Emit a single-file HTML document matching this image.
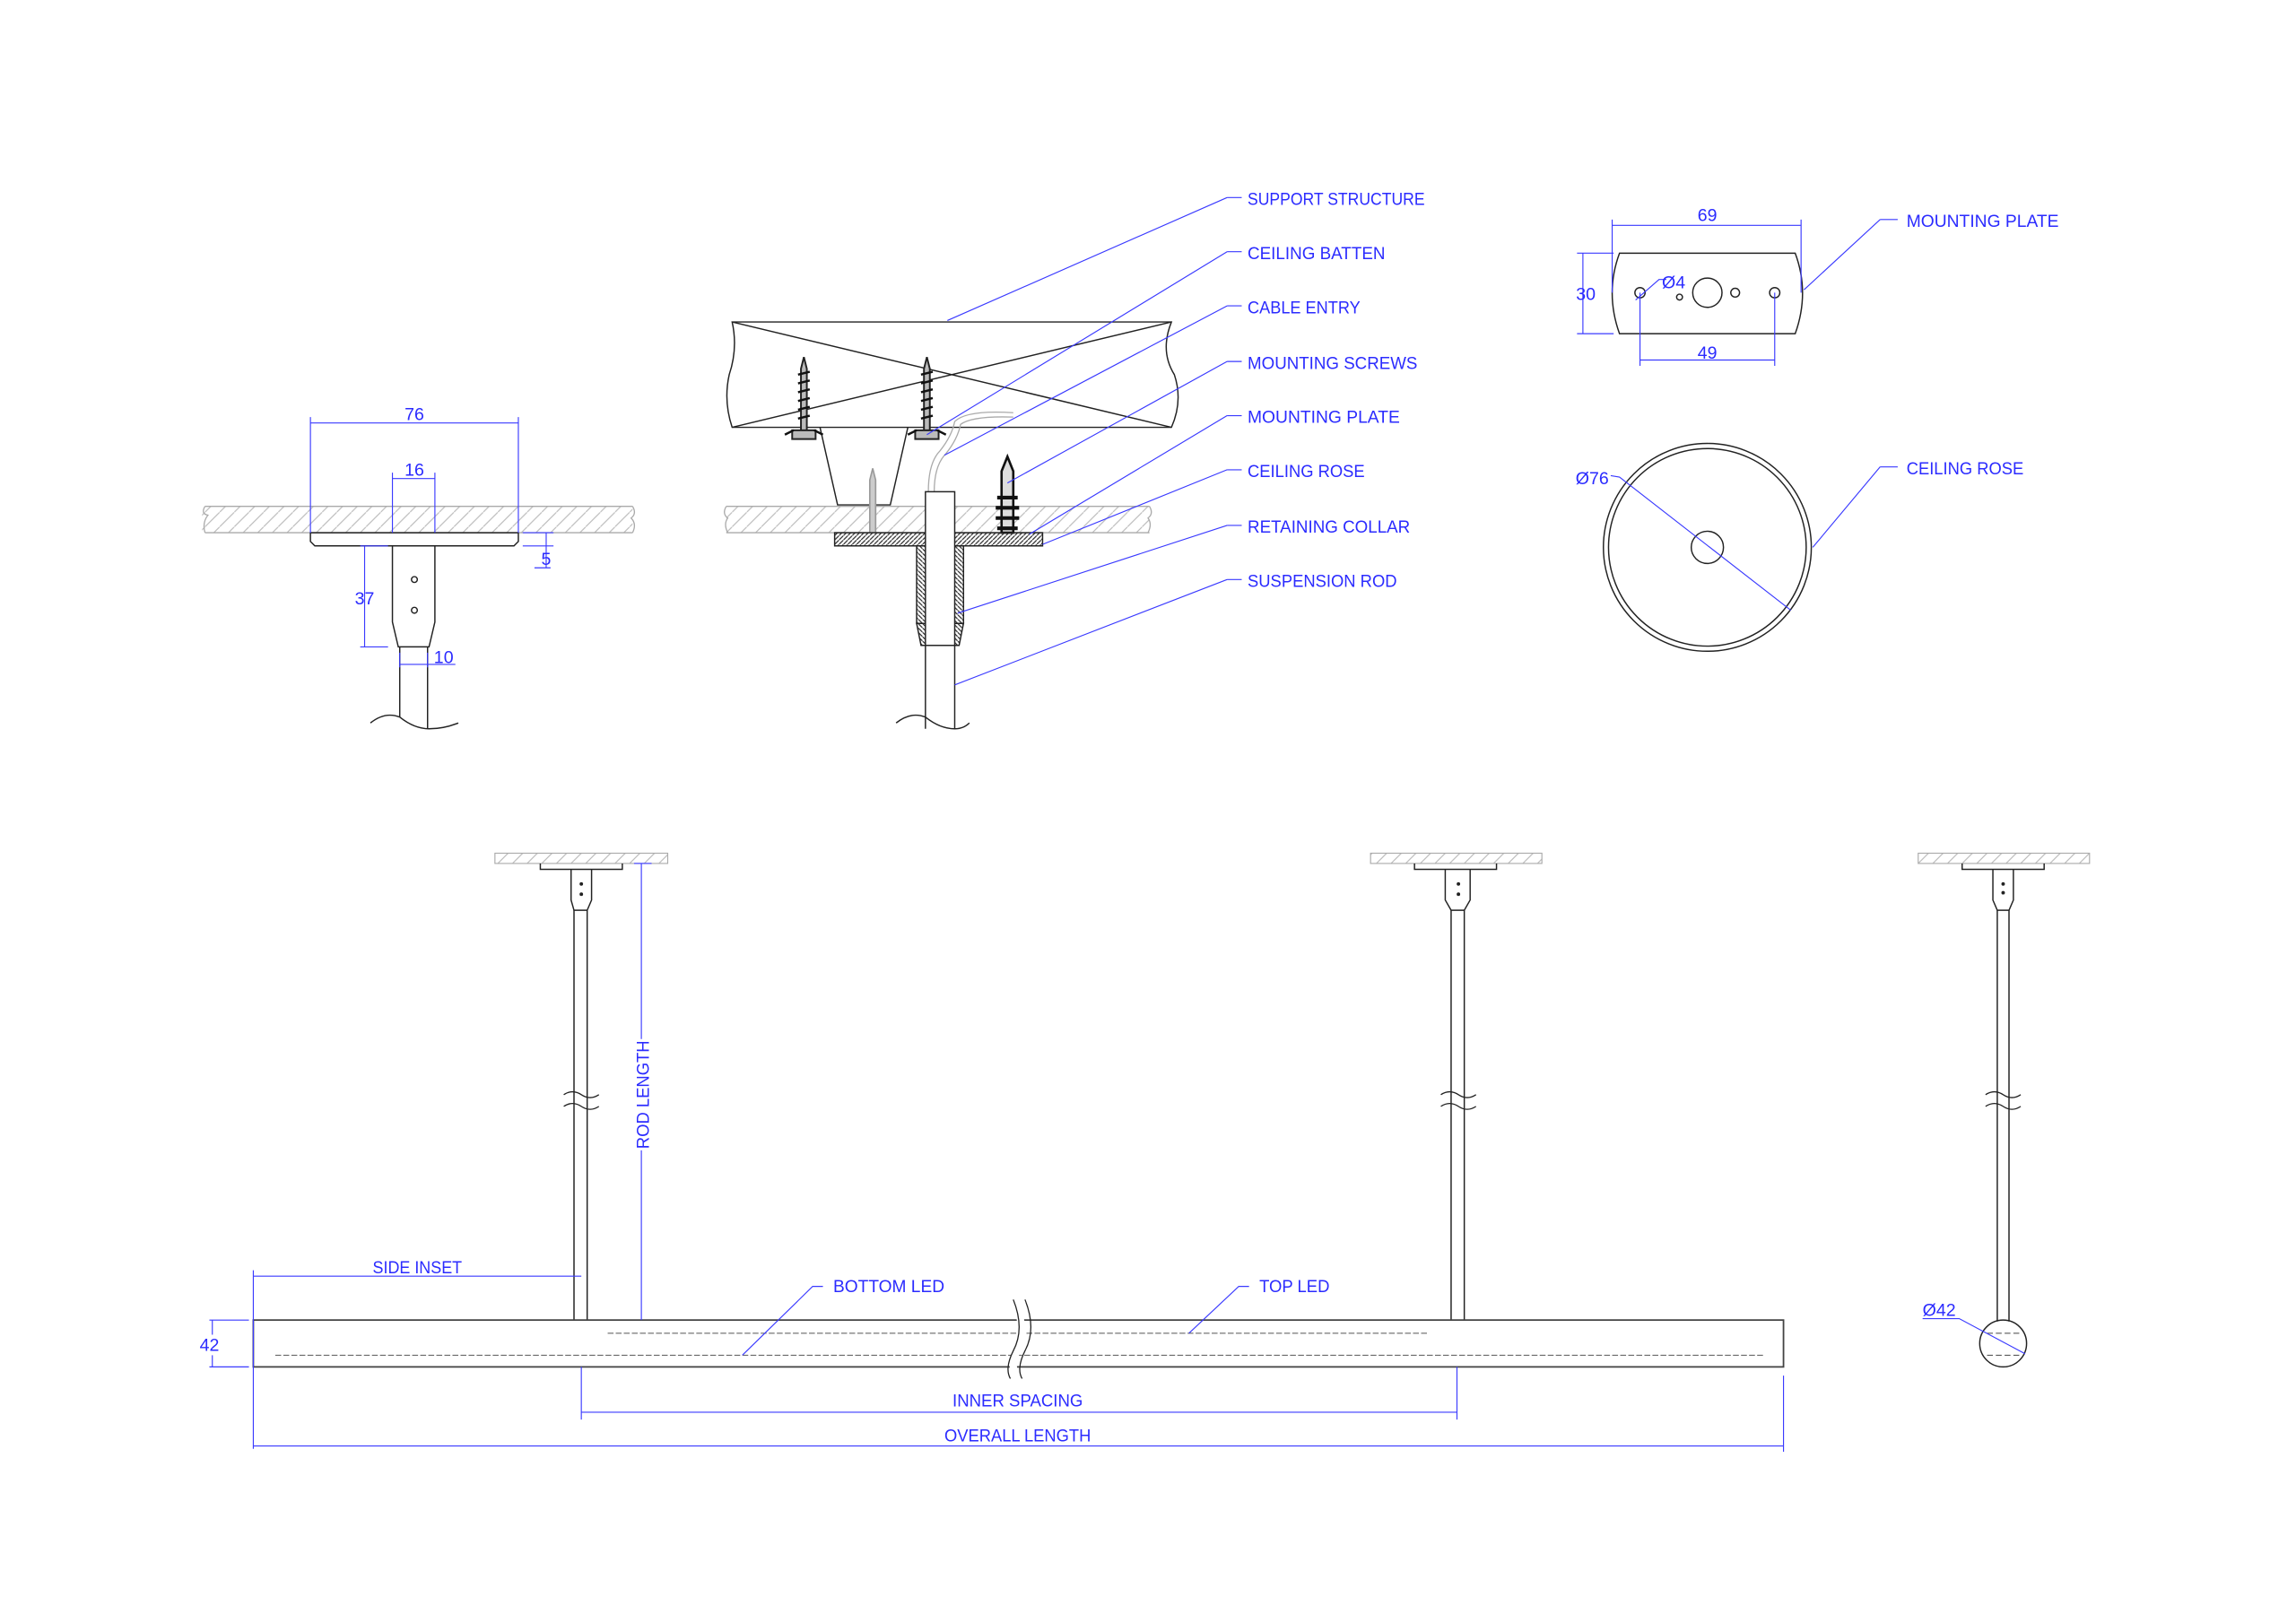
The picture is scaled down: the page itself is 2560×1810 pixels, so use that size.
<!DOCTYPE html>
<html><head><meta charset="utf-8"><style>
html,body{margin:0;padding:0;background:#fff;width:2560px;height:1810px;overflow:hidden}
svg{display:block}
text{font-family:"Liberation Sans",sans-serif;fill:#2b2bff;font-size:12px;}
.b{stroke:#3a3aff;stroke-width:0.7;fill:none}
.k{stroke:#222;stroke-width:0.9;fill:none}
.g{stroke:#aaa;stroke-width:0.8;fill:none}
</style></head><body>
<svg width="2560" height="1810" viewBox="0 0 1568 1109" preserveAspectRatio="none" xmlns="http://www.w3.org/2000/svg">
<defs>
<pattern id="hg" width="10" height="10" patternUnits="userSpaceOnUse"><path d="M0 10 L10 0" stroke="#bbb" stroke-width="0.7"/></pattern>
<pattern id="hk" width="3" height="3" patternUnits="userSpaceOnUse"><path d="M0 3 L3 0" stroke="#222" stroke-width="0.7"/></pattern>
<pattern id="hk2" width="3" height="3" patternUnits="userSpaceOnUse"><path d="M0 0 L3 3" stroke="#222" stroke-width="0.7"/></pattern>
</defs>

<!-- LEFT DETAIL -->
<rect x="138" y="346" width="294" height="18" fill="url(#hg)" />
<path class="g" d="M140 346 H432 M140 364 H432 M140 346 q-3 5 2 6 q-4 5 -2 12 M432 346 q3 5 -1 8 q4 4 1 10"/>
<path class="k" d="M212 364 V370 L215 373 H351 L354 370 V364 Z"/>
<path class="k" d="M268 373 V425 L272 442 H293 L297 425 V373"/>
<circle cx="283" cy="396" r="2" class="k"/><circle cx="283" cy="417" r="2" class="k"/>
<path class="k" d="M273 442 V490 M292 442 V498"/>
<path class="k" d="M253 494 q10 -8 20 -4 q10 8 20 8 q10 0 20 -4"/>
<path class="b" d="M212 289 H354 M212 285 V364 M354 285 V364 M268 327 H297 M268 323 V364 M297 323 V364 M249 373 V442 M246 373 H265 M246 442 H265 M273 454 H311 M273 446 V456 M292 446 V456 M373 364 V388 M357 364 H378 M357 373 H378 M365 388 H376"/>
<text x="283" y="287" text-anchor="middle">76</text>
<text x="283" y="325" text-anchor="middle">16</text>
<text x="249" y="413" text-anchor="middle">37</text>
<text x="303" y="453" text-anchor="middle">10</text>
<text x="373" y="386" text-anchor="middle">5</text>

<!-- MIDDLE DETAIL -->
<path class="k" d="M500 220 H800 q-8 20 2 36 q6 18 -2 36 H500 q-6 -18 -2 -36 q6 -18 2 -36 Z"/>
<path class="k" d="M500 220 L800 292 M500 292 L800 220" stroke-width="0.6"/>
<rect x="496" y="346" width="289" height="18" fill="url(#hg)"/>
<path class="g" d="M496 346 H785 M496 364 H785 M496 346 q-3 5 1 8 q-3 4 0 10 M785 346 q3 5 -1 8 q3 4 0 10"/>
<path class="k" d="M560 292 L572 345 H608 L620 292" stroke-width="1.4"/>
<g stroke="#222" stroke-width="1.2" fill="#bbb">
<path d="M547 297 V252 L549 244 L551 252 V297 Z"/>
<path d="M631 297 V252 L633 244 L635 252 V297 Z"/>
<path d="M541 294 h16 v6 h-16z"/><path d="M625 294 h16 v6 h-16z"/>
</g>
<path d="M545 256 l8 -2 M545 262 l8 -2 M545 268 l8 -2 M545 274 l8 -2 M545 280 l8 -2 M545 286 l8 -2 M629 256 l8 -2 M629 262 l8 -2 M629 268 l8 -2 M629 274 l8 -2 M629 280 l8 -2 M629 286 l8 -2 M536 297 l6 -3 M562 297 l-6 -3 M620 297 l6 -3 M646 297 l-6 -3" stroke="#111" stroke-width="1.5"/>
<path d="M594 364 V328 L596 320 L598 328 V364" stroke="#999" stroke-width="1" fill="#ccc"/>
<path d="M684 364 V322 L688 312 L692 322 V364 Z" stroke="#111" stroke-width="1.6" fill="#ddd"/>
<path d="M681 340 h14 M680 347 h16 M680 354 h16 M681 361 h14" stroke="#111" stroke-width="2.5"/>
<path class="g" d="M634 336 q0 -20 8 -28 q8 -10 10 -20 q8 -8 40 -6" stroke="#bbb"/>
<path class="g" d="M638 336 q0 -18 8 -26 q8 -10 10 -20 q8 -6 36 -5" stroke="#ccc"/>
<rect x="570" y="364" width="142" height="9" fill="url(#hk)" stroke="#222" stroke-width="0.9"/>
<rect x="626" y="373" width="32" height="53" fill="url(#hk2)" stroke="#222" stroke-width="0.9"/>
<path d="M626 426 L629 441 H655 L658 426 Z" fill="url(#hk2)" stroke="#222" stroke-width="0.9"/>
<rect x="632" y="336" width="20" height="105" fill="#fff" stroke="#222" stroke-width="0.9"/>
<path class="k" d="M632 441 V498 M652 441 V498 M612 494 q10 -8 20 -4 q10 8 20 8 q6 0 10 -4"/>
<g class="b">
<path d="M838 135 H848 M838 135 L647 219"/>
<path d="M838 172 H848 M838 172 L633 297"/>
<path d="M838 209 H848 M838 209 L645 311"/>
<path d="M838 247 H848 M838 247 L688 330"/>
<path d="M838 284 H848 M838 284 L703 365"/>
<path d="M838 321 H848 M838 321 L712 372"/>
<path d="M838 359 H848 M838 359 L654 419"/>
<path d="M838 396 H848 M838 396 L652 468"/>
</g>
<g lengthAdjust="spacingAndGlyphs">
<text x="852" y="140" textLength="121" lengthAdjust="spacingAndGlyphs">SUPPORT STRUCTURE</text>
<text x="852" y="177" textLength="94" lengthAdjust="spacingAndGlyphs">CEILING BATTEN</text>
<text x="852" y="214" textLength="77" lengthAdjust="spacingAndGlyphs">CABLE ENTRY</text>
<text x="852" y="252" textLength="116" lengthAdjust="spacingAndGlyphs">MOUNTING SCREWS</text>
<text x="852" y="289" textLength="104" lengthAdjust="spacingAndGlyphs">MOUNTING PLATE</text>
<text x="852" y="326" textLength="80" lengthAdjust="spacingAndGlyphs">CEILING ROSE</text>
<text x="852" y="364" textLength="111" lengthAdjust="spacingAndGlyphs">RETAINING COLLAR</text>
<text x="852" y="401" textLength="102" lengthAdjust="spacingAndGlyphs">SUSPENSION ROD</text>
</g>

<!-- TOP RIGHT PLATE -->
<path class="k" d="M1106 173 H1226 Q1236 200 1226 228 H1106 Q1096 200 1106 173 Z"/>
<circle cx="1120" cy="200" r="3.5" class="k"/><circle cx="1147" cy="203" r="2" class="k"/>
<circle cx="1166" cy="200" r="10" class="k"/><circle cx="1185" cy="200" r="3" class="k"/><circle cx="1212" cy="200" r="3.5" class="k"/>
<path class="b" d="M1101 154 H1230 M1101 150 V200 M1230 150 V200 M1081 173 V228 M1077 173 H1102 M1077 228 H1102 M1120 246 H1212 M1120 200 V250 M1212 200 V250 M1117 205 L1133 191 H1138 M1284 150 H1296 M1284 150 L1232 198"/>
<text x="1166" y="151" text-anchor="middle">69</text>
<text x="1083" y="205" text-anchor="middle">30</text>
<text x="1166" y="245" text-anchor="middle">49</text>
<text x="1135" y="197">Ø4</text>
<text x="1302" y="155" textLength="104" lengthAdjust="spacingAndGlyphs">MOUNTING PLATE</text>

<!-- CEILING ROSE PLAN -->
<circle cx="1166" cy="374" r="71" class="k"/>
<circle cx="1166" cy="374" r="67.5" class="k" stroke-width="0.7"/>
<circle cx="1166" cy="374" r="11" class="k"/>
<path class="b" d="M1100 325 L1106 326 L1223 417 M1284 319 H1296 M1284 319 L1238 374"/>
<text x="1076" y="331">Ø76</text>
<text x="1302" y="324" textLength="80" lengthAdjust="spacingAndGlyphs">CEILING ROSE</text>

<!-- BOTTOM ELEVATION -->
<g>
<rect x="338" y="583" width="118" height="7" fill="url(#hg)" stroke="#aaa" stroke-width="0.7"/>
<rect x="936" y="583" width="117" height="7" fill="url(#hg)" stroke="#aaa" stroke-width="0.7"/>
<rect x="1310" y="583" width="117" height="7" fill="url(#hg)" stroke="#aaa" stroke-width="0.7"/>
</g>
<g class="k">
<path d="M369 590 V594 H425 V590"/><path d="M390 594 V615 L392 622 H401 L404 615 V594"/><path d="M392 622 V902 M401 622 V902"/>
<path d="M966 590 V594 H1022 V590"/><path d="M987 594 V615 L991 622 H1000 L1004 615 V594"/><path d="M991 622 V902 M1000 622 V902"/>
<path d="M1340 590 V594 H1396 V590"/><path d="M1361 594 V615 L1364 622 H1372 L1375 615 V594"/><path d="M1364 622 V903 M1372 622 V903"/>
<path d="M385 748 q6 -4 12 0 q6 4 12 0 M385 756 q6 -4 12 0 q6 4 12 0" stroke-width="0.8"/>
<path d="M984 748 q6 -4 12 0 q6 4 12 0 M984 756 q6 -4 12 0 q6 4 12 0" stroke-width="0.8"/>
<path d="M1356 748 q6 -4 12 0 q6 4 12 0 M1356 756 q6 -4 12 0 q6 4 12 0" stroke-width="0.8"/>
</g>
<g fill="#222"><circle cx="397" cy="604" r="1.2"/><circle cx="397" cy="611" r="1.2"/><circle cx="996" cy="604" r="1.2"/><circle cx="996" cy="611" r="1.2"/><circle cx="1368" cy="604" r="1.2"/><circle cx="1368" cy="610" r="1.2"/></g>
<ellipse cx="1368" cy="918" rx="16" ry="16" class="k"/>
<path d="M1357 911 H1379 M1357 926 H1379" stroke="#444" stroke-width="0.6" stroke-dasharray="4 2"/>
<rect x="173" y="902" width="1045" height="32" fill="none" stroke="#444" stroke-width="1.1"/>
<path d="M415 911 H975" stroke="#555" stroke-width="0.6" stroke-dasharray="4 1.5"/>
<path d="M188 926 H1205" stroke="#555" stroke-width="0.6" stroke-dasharray="4 1.5"/>
<path d="M696 898 q4 14 -2 26 q-4 10 0 16" stroke="#fff" stroke-width="5" fill="none"/>
<path d="M692 888 q8 20 0 35 q-6 12 -2 19 M700 888 q8 20 0 35 q-6 12 -2 19" stroke="#222" stroke-width="0.8" fill="none"/>
<g class="b">
<path d="M173 872 H397 M173 868 V990 M438 590 V710 M438 786 V902 M433 590 H445 M143 902 H170 M143 934 H170 M145 902 V912 M145 926 V934"/>
<path d="M397 965 H995 M397 934 V970 M995 934 V970 M173 988 H1218 M1218 940 V992"/>
<path d="M562 879 H555 L507 926 M853 879 H846 L812 911 M1313 901 H1338 L1383 925"/>
</g>
<text x="285" y="870" text-anchor="middle" textLength="61" lengthAdjust="spacingAndGlyphs">SIDE INSET</text>
<text x="143" y="923" text-anchor="middle">42</text>
<text x="695" y="961" text-anchor="middle" textLength="89" lengthAdjust="spacingAndGlyphs">INNER SPACING</text>
<text x="695" y="985" text-anchor="middle" textLength="100" lengthAdjust="spacingAndGlyphs">OVERALL LENGTH</text>
<text x="569" y="883" textLength="76" lengthAdjust="spacingAndGlyphs">BOTTOM LED</text>
<text x="860" y="883" textLength="48" lengthAdjust="spacingAndGlyphs">TOP LED</text>
<text x="1313" y="899">Ø42</text>
<text x="0" y="0" transform="translate(443 748) rotate(-90)" text-anchor="middle" textLength="74" lengthAdjust="spacingAndGlyphs">ROD LENGTH</text>
</svg>
</body></html>
